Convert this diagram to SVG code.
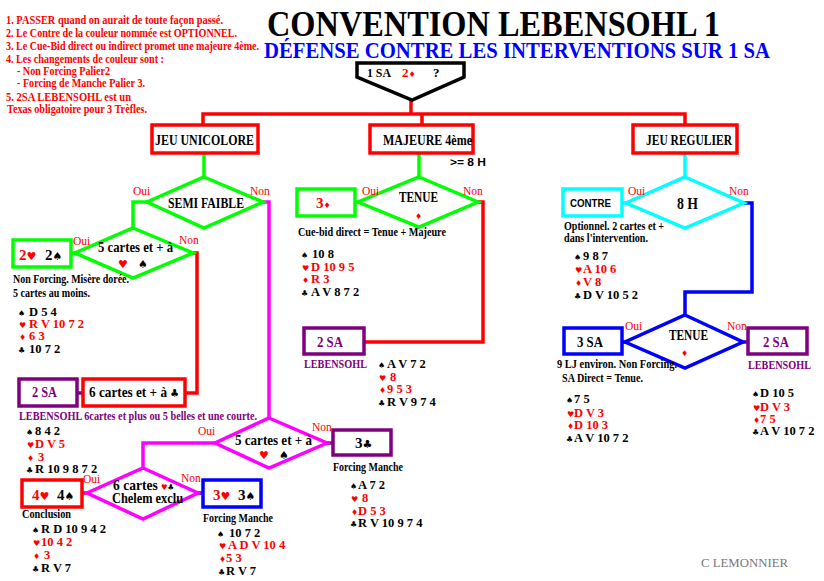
<svg xmlns="http://www.w3.org/2000/svg" width="824" height="581" viewBox="0 0 824 581">
<style>
text{font-family:"Liberation Serif","Times New Roman",serif;}
.b{font-weight:bold;}
.note{font-weight:bold;font-size:12.5px;fill:#ff0000;}
.lbl{font-weight:bold;font-size:15px;fill:#000;}
.small{font-weight:bold;font-size:11.5px;fill:#000;}
.on{font-size:11.5px;fill:#ff0000;}
.hand{font-weight:bold;font-size:12.5px;}
.sym{font-family:"DejaVu Sans",sans-serif;font-size:8px;}
.bsym{font-family:"DejaVu Sans",sans-serif;font-size:11px;}
.r{fill:#ff0000;}
.k{fill:#000;}
.p{fill:#800080;}
.box{fill:#fff;stroke-width:3.5;}
.dia{fill:#fff;stroke-width:3.5;}
.ln{fill:none;stroke-width:3.5;}
.sR{stroke:#ff0000;}
.sG{stroke:#00ff00;}
.sM{stroke:#ff00ff;}
.sC{stroke:#00ffff;}
.sB{stroke:#0000ff;}
.sP{stroke:#800080;}
.sans{font-family:"Liberation Sans",Arial,sans-serif;font-weight:bold;}
</style>
<rect width="824" height="581" fill="#fff"/>

<g id="notes">
<text class="note" x="6" y="24" textLength="217" lengthAdjust="spacingAndGlyphs">1. PASSER quand on aurait de toute façon passé.</text>
<text class="note" x="6" y="37" textLength="231" lengthAdjust="spacingAndGlyphs">2. Le Contre de la couleur nommée est OPTIONNEL.</text>
<text class="note" x="6" y="50" textLength="253" lengthAdjust="spacingAndGlyphs">3. Le Cue-Bid direct ou indirect promet une majeure 4ème.</text>
<text class="note" x="6" y="63" textLength="158" lengthAdjust="spacingAndGlyphs">4. Les changements de couleur sont :</text>
<text class="note" x="17" y="75" textLength="93" lengthAdjust="spacingAndGlyphs">- Non Forcing Palier2</text>
<text class="note" x="17" y="87" textLength="128" lengthAdjust="spacingAndGlyphs">- Forcing de Manche Palier 3.</text>
<text class="note" x="6" y="101" textLength="125" lengthAdjust="spacingAndGlyphs">5. 2SA LEBENSOHL est un</text>
<text class="note" x="7" y="113" textLength="140" lengthAdjust="spacingAndGlyphs">Texas obligatoire pour 3 Trèfles.</text>
</g>

<g id="title">
<text class="b" x="267" y="36" font-size="36" fill="#000" textLength="453" lengthAdjust="spacingAndGlyphs">CONVENTION LEBENSOHL 1</text>
<text class="b" x="264" y="58" font-size="23" fill="#0000ff" textLength="506" lengthAdjust="spacingAndGlyphs">DÉFENSE CONTRE LES INTERVENTIONS SUR 1 SA</text>
</g>

<g id="connectors">
<polyline class="ln sR" points="411,100 411,114"/>
<polyline class="ln sR" points="203,125 203,114 685,114 685,125"/>
<polyline class="ln sR" points="422,114 422,125"/>
<polyline class="ln sG" points="204,153 204,177"/>
<polyline class="ln sG" points="147,202 133,202 133,228"/>
<polyline class="ln sG" points="71,253 75,253"/>
<polyline class="ln sR" points="193,253 197,253 197,393 185,393"/>
<polyline class="ln sP" points="77,393 83,393"/>
<polyline class="ln sM" points="263,202 269,202 269,418"/>
<polyline class="ln sM" points="215,443 143,443 143,468"/>
<polyline class="ln sP" points="327,443 333,443"/>
<polyline class="ln sR" points="82,493 87,493"/>
<polyline class="ln sB" points="198,493 203,493"/>
<polyline class="ln sG" points="419,153 419,177"/>
<polyline class="ln sG" points="355,202 358,202"/>
<polyline class="ln sR" points="478,202 483,202 483,342 364,342"/>
<polyline class="ln sC" points="685,153 685,177"/>
<polyline class="ln sC" points="622,203 626,203"/>
<polyline class="ln sB" points="744,203 752,203 752,292 685,292 685,315"/>
<polyline class="ln sB" points="622,342 625,342"/>
<polyline class="ln sP" points="743,342 748,342"/>
</g>

<g id="start">
<polygon points="357,63 464,63 464,77 412,100 357,77" fill="#fff" stroke="#000" stroke-width="3.5"/>
<text class="b" y="77" font-size="13"><tspan x="367" textLength="24" lengthAdjust="spacingAndGlyphs">1 SA</tspan><tspan x="402" class="r">2</tspan><tspan class="sym r" font-size="11">♦</tspan><tspan x="433">?</tspan></text>
</g>

<g id="jeu-unicolore">
<rect class="box sR" x="152" y="125" width="106" height="28"/>
<text class="lbl" x="155" y="145" textLength="99" lengthAdjust="spacingAndGlyphs">JEU UNICOLORE</text>
</g>
<g id="majeure">
<rect class="box sR" x="370" y="125" width="103" height="28"/>
<text class="lbl" x="383" y="145" textLength="89" lengthAdjust="spacingAndGlyphs">MAJEURE 4ème</text>
<text class="sans" x="450" y="166" font-size="10" textLength="36" lengthAdjust="spacingAndGlyphs">&gt;= 8 H</text>
</g>
<g id="jeu-regulier">
<rect class="box sR" x="633" y="125" width="104" height="28"/>
<text class="lbl" x="646" y="145" textLength="86" lengthAdjust="spacingAndGlyphs">JEU REGULIER</text>
</g>

<g id="semi-faible">
<polygon class="dia sG" points="204,177 263,202 204,228 147,202"/>
<text class="lbl" x="168" y="208" textLength="76" lengthAdjust="spacingAndGlyphs">SEMI FAIBLE</text>
<text class="on" x="133" y="195">Oui</text>
<text class="on" x="250" y="195">Non</text>
</g>

<g id="cinq-cartes-1">
<polygon class="dia sG" points="133,228 193,253 133,278 75,253"/>
<text class="lbl" x="98" y="252" textLength="75" lengthAdjust="spacingAndGlyphs">5 cartes et + à</text>
<text class="bsym" y="268"><tspan x="118" class="r">♥</tspan><tspan x="138" class="k">♠</tspan></text>
<text class="on" x="73" y="245">Oui</text>
<text class="on" x="179" y="244">Non</text>
</g>

<g id="deux-coeur-pique">
<rect class="box sG" x="13" y="240" width="58" height="27"/>
<text class="lbl" y="260"><tspan x="19" class="r">2</tspan><tspan class="bsym r">♥</tspan><tspan x="45">2</tspan><tspan class="bsym">♠</tspan></text>
<text class="small" x="13" y="283" textLength="116" lengthAdjust="spacingAndGlyphs">Non Forcing. Misère dorée.</text>
<text class="small" x="13" y="297" textLength="77" lengthAdjust="spacingAndGlyphs">5 cartes au moins.</text>
<text class="hand" y="316"><tspan x="18" class="sym k">♠</tspan><tspan x="29" class="k">D 5 4</tspan></text>
<text class="hand" y="328"><tspan x="19" class="sym r">♥</tspan><tspan x="29" class="r">R V 10 7 2</tspan></text>
<text class="hand" y="340"><tspan x="19" class="sym r">♦</tspan><tspan x="29" class="r">6 3</tspan></text>
<text class="hand" y="353"><tspan x="18" class="sym k">♣</tspan><tspan x="29" class="k">10 7 2</tspan></text>
</g>

<g id="six-cartes-trefle">
<rect class="box sR" x="83" y="379" width="102" height="27"/>
<text class="lbl" x="89" y="397" textLength="90" lengthAdjust="spacingAndGlyphs">6 cartes et + à <tspan class="bsym">♣</tspan></text>
</g>

<g id="deux-sa-gauche">
<rect class="box sP" x="19" y="379" width="58" height="27"/>
<text class="lbl p" x="32" y="397" textLength="25" lengthAdjust="spacingAndGlyphs">2 SA</text>
<text class="small p" x="19" y="420" textLength="238" lengthAdjust="spacingAndGlyphs">LEBENSOHL 6cartes et plus ou 5 belles et une courte.</text>
<text class="hand" y="435"><tspan x="26" class="sym k">♠</tspan><tspan x="35" class="k">8 4 2</tspan></text>
<text class="hand" y="448"><tspan x="27" class="sym r">♥</tspan><tspan x="35" class="r">D V 5</tspan></text>
<text class="hand" y="461"><tspan x="27" class="sym r">♦</tspan><tspan x="38" class="r">3</tspan></text>
<text class="hand" y="473"><tspan x="26" class="sym k">♣</tspan><tspan x="35" class="k">R 10 9 8 7 2</tspan></text>
</g>

<g id="cinq-cartes-2">
<polygon class="dia sM" points="269,418 327,443 269,468 215,443"/>
<text class="lbl" x="235" y="445" textLength="77" lengthAdjust="spacingAndGlyphs">5 cartes et + à</text>
<text class="bsym" y="459"><tspan x="259" class="r">♥</tspan><tspan x="279" class="k">♠</tspan></text>
<text class="on" x="198" y="435">Oui</text>
<text class="on" x="312" y="431">Non</text>
</g>

<g id="trois-trefle">
<rect class="box sP" x="333" y="430" width="58" height="25"/>
<text class="lbl" x="355" y="448">3<tspan class="bsym">♣</tspan></text>
<text class="small" x="333" y="471" textLength="70" lengthAdjust="spacingAndGlyphs">Forcing Manche</text>
<text class="hand" y="489"><tspan x="350" class="sym k">♠</tspan><tspan x="358" class="k">A 7 2</tspan></text>
<text class="hand" y="502"><tspan x="351" class="sym r">♥</tspan><tspan x="362" class="r">8</tspan></text>
<text class="hand" y="515"><tspan x="351" class="sym r">♦</tspan><tspan x="358" class="r">D 5 3</tspan></text>
<text class="hand" y="527"><tspan x="350" class="sym k">♣</tspan><tspan x="358" class="k">R V 10 9 7 4</tspan></text>
</g>

<g id="six-cartes-chelem">
<polygon class="dia sM" points="143,468 198,493 143,519 87,493"/>
<text class="lbl" x="113" y="490" textLength="61" lengthAdjust="spacingAndGlyphs">6 cartes <tspan class="sym r" font-size="10">♥</tspan><tspan class="sym k" font-size="10">♣</tspan></text>
<text class="lbl" x="112" y="503" textLength="71" lengthAdjust="spacingAndGlyphs">Chelem exclu</text>
<text class="on" x="83" y="483">Oui</text>
<text class="on" x="181" y="482">Non</text>
</g>

<g id="quatre-coeur-pique">
<rect class="box sR" x="22" y="480" width="60" height="27"/>
<text class="lbl" y="500"><tspan x="32" class="r">4</tspan><tspan class="bsym r">♥</tspan><tspan x="57">4</tspan><tspan class="bsym">♠</tspan></text>
<text class="small" x="22" y="518" textLength="49" lengthAdjust="spacingAndGlyphs">Conclusion</text>
<text class="hand" y="533"><tspan x="32" class="sym k">♠</tspan><tspan x="41" class="k">R D 10 9 4 2</tspan></text>
<text class="hand" y="546"><tspan x="33" class="sym r">♥</tspan><tspan x="41" class="r">10 4 2</tspan></text>
<text class="hand" y="559"><tspan x="33" class="sym r">♦</tspan><tspan x="44" class="r">3</tspan></text>
<text class="hand" y="572"><tspan x="32" class="sym k">♣</tspan><tspan x="41" class="k">R V 7</tspan></text>
</g>

<g id="trois-coeur-pique">
<rect class="box sB" x="203" y="480" width="58" height="27"/>
<text class="lbl" y="500"><tspan x="213" class="r">3</tspan><tspan class="bsym r">♥</tspan><tspan x="238">3</tspan><tspan class="bsym">♠</tspan></text>
<text class="small" x="203" y="522" textLength="70" lengthAdjust="spacingAndGlyphs">Forcing Manche</text>
<text class="hand" y="537"><tspan x="217" class="sym k">♠</tspan><tspan x="229" class="k">10 7 2</tspan></text>
<text class="hand" y="549"><tspan x="219" class="sym r">♥</tspan><tspan x="228" class="r">A D V 10 4</tspan></text>
<text class="hand" y="562"><tspan x="219" class="sym r">♦</tspan><tspan x="226" class="r">5 3</tspan></text>
<text class="hand" y="575"><tspan x="218" class="sym k">♣</tspan><tspan x="226" class="k">R V 7</tspan></text>
</g>

<g id="tenue-majeure">
<polygon class="dia sG" points="419,177 478,202 419,227 358,202"/>
<text class="lbl" x="399" y="202" textLength="39" lengthAdjust="spacingAndGlyphs">TENUE</text>
<text class="sym r" x="415" y="219" font-size="10">♦</text>
<text class="on" x="362" y="195">Oui</text>
<text class="on" x="463" y="195">Non</text>
</g>

<g id="trois-carreau">
<rect class="box sG" x="297" y="189" width="58" height="27"/>
<text class="lbl r" x="316" y="208">3<tspan class="sym" font-size="11">♦</tspan></text>
<text class="small" x="298" y="236" textLength="148" lengthAdjust="spacingAndGlyphs">Cue-bid direct =  Tenue + Majeure</text>
<text class="hand" y="258"><tspan x="301" class="sym k">♠</tspan><tspan x="312" class="k">10 8</tspan></text>
<text class="hand" y="271"><tspan x="302" class="sym r">♥</tspan><tspan x="311" class="r">D 10 9 5</tspan></text>
<text class="hand" y="283"><tspan x="302" class="sym r">♦</tspan><tspan x="311" class="r">R 3</tspan></text>
<text class="hand" y="296"><tspan x="301" class="sym k">♣</tspan><tspan x="311" class="k">A V 8 7 2</tspan></text>
</g>

<g id="deux-sa-milieu">
<rect class="box sP" x="304" y="328" width="60" height="26"/>
<text class="lbl p" x="317" y="347" textLength="26" lengthAdjust="spacingAndGlyphs">2 SA</text>
<text class="small p" x="304" y="368" textLength="63" lengthAdjust="spacingAndGlyphs">LEBENSOHL</text>
<text class="hand" y="368"><tspan x="378" class="sym k">♠</tspan><tspan x="387" class="k">A V 7 2</tspan></text>
<text class="hand" y="381"><tspan x="379" class="sym r">♥</tspan><tspan x="390" class="r">8</tspan></text>
<text class="hand" y="393"><tspan x="379" class="sym r">♦</tspan><tspan x="387" class="r">9 5 3</tspan></text>
<text class="hand" y="406"><tspan x="378" class="sym k">♣</tspan><tspan x="387" class="k">R V 9 7 4</tspan></text>
</g>

<g id="huit-h">
<polygon class="dia sC" points="685,177 744,203 685,228 626,203"/>
<text class="b" x="677" y="209" font-size="17" textLength="21" lengthAdjust="spacingAndGlyphs">8 H</text>
<text class="on" x="628" y="195">Oui</text>
<text class="on" x="729" y="195">Non</text>
</g>

<g id="contre">
<rect class="box sC" x="563" y="189" width="59" height="27"/>
<text class="sans" x="570" y="207" font-size="10" textLength="41" lengthAdjust="spacingAndGlyphs">CONTRE</text>
<text class="small" x="564" y="230" textLength="100" lengthAdjust="spacingAndGlyphs">Optionnel. 2 cartes et +</text>
<text class="small" x="564" y="242" textLength="84" lengthAdjust="spacingAndGlyphs">dans l'intervention.</text>
<text class="hand" y="260"><tspan x="574" class="sym k">♠</tspan><tspan x="583" class="k">9 8 7</tspan></text>
<text class="hand" y="273"><tspan x="575" class="sym r">♥</tspan><tspan x="583" class="r">A 10 6</tspan></text>
<text class="hand" y="286"><tspan x="575" class="sym r">♦</tspan><tspan x="583" class="r">V 8</tspan></text>
<text class="hand" y="299"><tspan x="574" class="sym k">♣</tspan><tspan x="583" class="k">D V 10 5 2</tspan></text>
</g>

<g id="tenue-regulier">
<polygon class="dia sB" points="685,315 743,342 685,368 625,342"/>
<text class="lbl" x="669" y="340" textLength="39" lengthAdjust="spacingAndGlyphs">TENUE</text>
<text class="sym r" x="681" y="356" font-size="10">♦</text>
<text class="on" x="625" y="330">Oui</text>
<text class="on" x="727" y="330">Non</text>
</g>

<g id="trois-sa">
<rect class="box sB" x="564" y="328" width="58" height="26"/>
<text class="lbl" x="577" y="347" textLength="26" lengthAdjust="spacingAndGlyphs">3 SA</text>
<text class="small" x="557" y="368" textLength="120" lengthAdjust="spacingAndGlyphs">9 LJ environ. Non Forcing.</text>
<text class="small" x="562" y="382" textLength="81" lengthAdjust="spacingAndGlyphs">SA Direct =  Tenue.</text>
<text class="hand" y="403"><tspan x="566" class="sym k">♠</tspan><tspan x="574" class="k">7 5</tspan></text>
<text class="hand" y="417"><tspan x="567" class="sym r">♥</tspan><tspan x="574" class="r">D V 3</tspan></text>
<text class="hand" y="429"><tspan x="567" class="sym r">♦</tspan><tspan x="574" class="r">D 10 3</tspan></text>
<text class="hand" y="442"><tspan x="566" class="sym k">♣</tspan><tspan x="574" class="k">A V 10 7 2</tspan></text>
</g>

<g id="deux-sa-droite">
<rect class="box sP" x="748" y="328" width="59" height="26"/>
<text class="lbl p" x="763" y="347" textLength="26" lengthAdjust="spacingAndGlyphs">2 SA</text>
<text class="small p" x="748" y="369" textLength="63" lengthAdjust="spacingAndGlyphs">LEBENSOHL</text>
<text class="hand" y="397"><tspan x="752" class="sym k">♠</tspan><tspan x="760" class="k">D 10 5</tspan></text>
<text class="hand" y="411"><tspan x="753" class="sym r">♥</tspan><tspan x="760" class="r">D V 3</tspan></text>
<text class="hand" y="423"><tspan x="753" class="sym r">♦</tspan><tspan x="760" class="r">7 5</tspan></text>
<text class="hand" y="435"><tspan x="752" class="sym k">♣</tspan><tspan x="760" class="k">A V 10 7 2</tspan></text>
</g>

<g id="author">
<text x="701" y="567" font-size="13" fill="#777" textLength="87" lengthAdjust="spacingAndGlyphs">C  LEMONNIER</text>
</g>
</svg>
